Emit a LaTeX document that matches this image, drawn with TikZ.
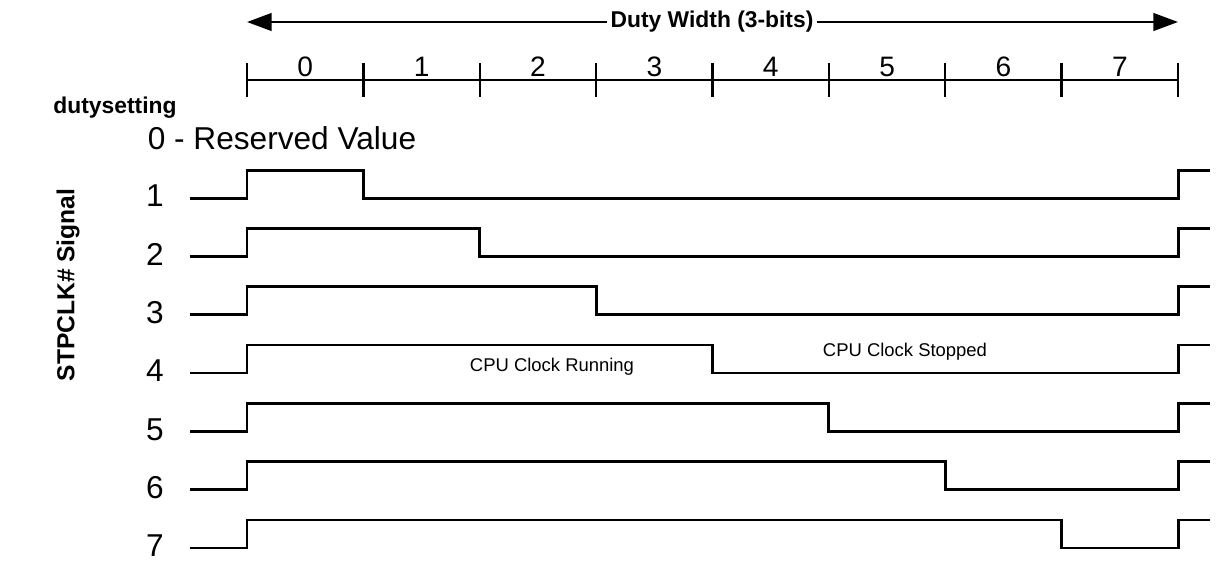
\documentclass[tikz,border=0pt]{standalone}
\usepackage{fontspec}
\setmainfont{Liberation Sans}
\usetikzlibrary{arrows.meta}
\tikzset{
  wave/.style={line width=1.7pt,line join=miter},
  tick/.style={line width=1.4pt},
  rowlabel/.style={font=\fontsize{18}{21}\selectfont},
  celllabel/.style={font=\fontsize{16}{19}\selectfont},
  note/.style={font=\fontsize{10.5}{12}\selectfont},
}
\begin{document}
\begin{tikzpicture}[x=0.02cm,y=-0.02cm]
\useasboundingbox (0,0) rectangle (1216,576);
% duty width arrow
\node[font=\bfseries\fontsize{13}{15}\selectfont,fill=white,inner sep=2pt] (title) at (712,22) {Duty Width (3-bits)};
\coordinate (aleft) at (247,22);
\coordinate (aright) at (1178,22);
\draw[line width=1.4pt,-{Triangle[length=14pt,width=10pt]}] (title.west) -- (aleft);
\draw[line width=1.4pt,-{Triangle[length=14pt,width=10pt]}] (title.east) -- (aright);
% scale with ticks
\draw[tick] (247,80) -- (1178,80);
\foreach \i in {0,...,8}
  \draw[tick] ({247+116.375*\i},63) -- ({247+116.375*\i},97);
\foreach \i in {0,...,7}
  \node[celllabel] at ({247+116.375*(\i+0.5)},67) {\i};
\node[font=\bfseries\fontsize{13}{15}\selectfont] (dutyset) at (115,108) {dutysetting};
\node[rowlabel] (reserved) at (282,138) {0 - Reserved Value};
\node[font=\bfseries\fontsize{14}{16}\selectfont,rotate=90] (signal) at (68,285) {STPCLK\# Signal};
% waveforms
\foreach \k in {1,...,7}{
  \pgfmathsetmacro{\yl}{198+58.33*(\k-1)}
  \pgfmathsetmacro{\yh}{\yl-28}
  \pgfmathsetmacro{\xf}{247+116.375*\k}
  \node[rowlabel] at (155,\yl-2) {\k};
  \draw[wave] (190,\yl) -- (247,\yl) -- (247,\yh) -- (\xf,\yh) -- (\xf,\yl)
    -- (1178,\yl) -- (1178,\yh) -- (1210,\yh);
}
\node[note] (running) at (552,367) {CPU Clock Running};
\node[note] (stopped) at (905,352) {CPU Clock Stopped};
\end{tikzpicture}
\end{document}
